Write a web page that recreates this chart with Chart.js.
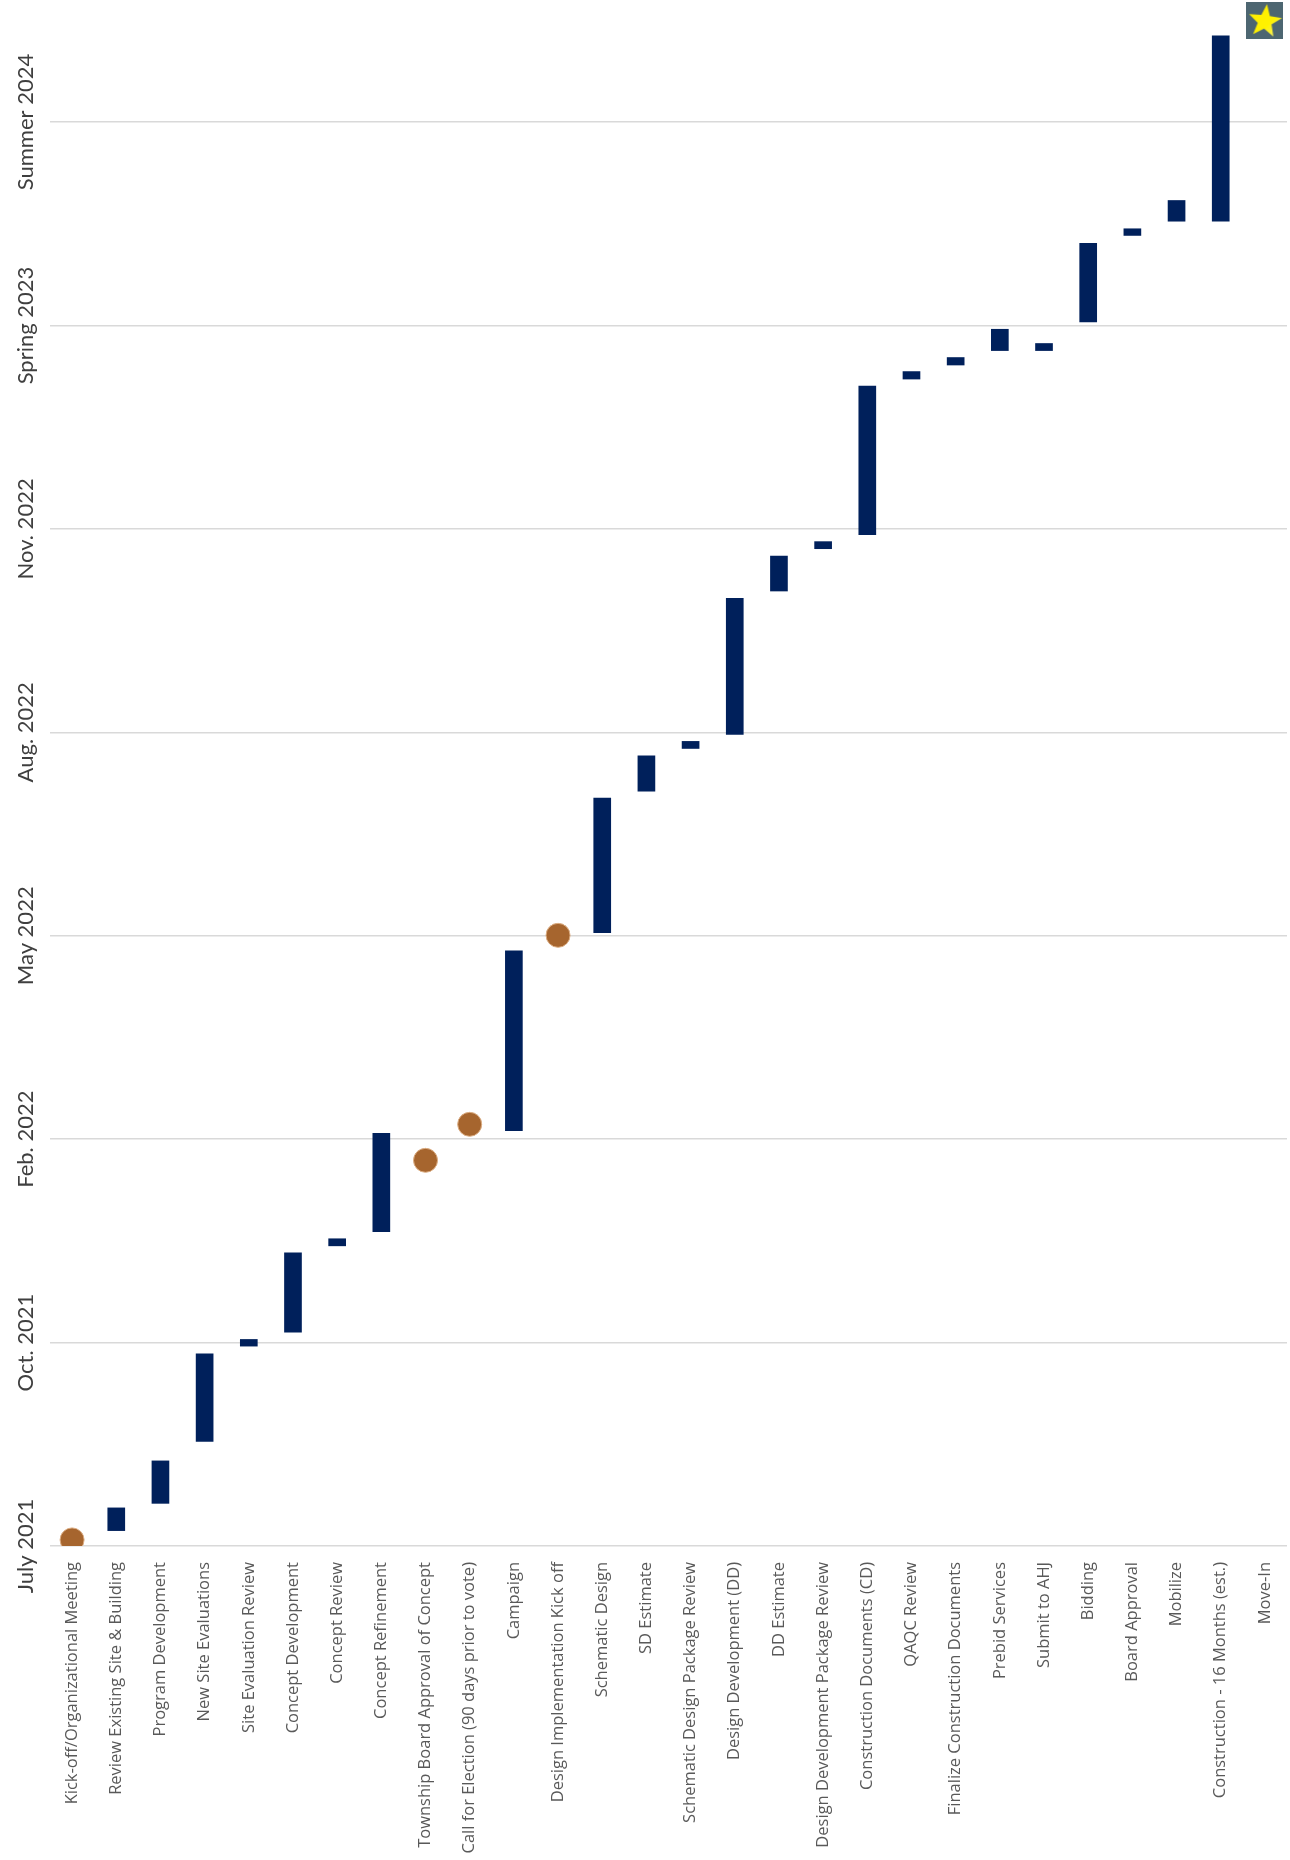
<!DOCTYPE html>
<html>
<head>
<meta charset="utf-8">
<title>Project schedule</title>
<script src="https://cdn.jsdelivr.net/npm/chart.js@4.4.1/dist/chart.umd.min.js"></script>
<style>
  html, body { margin: 0; padding: 0; background: #ffffff; }
  #wrap { position: relative; width: 1290px; height: 1860px; }
</style>
</head>
<body>
<div id="wrap"><canvas id="scheduleChart"></canvas></div>
<script>
// Tâches du planning (axe des catégories)
const tasks = [
  'Kick-off/Organizational Meeting',
  'Review Existing Site & Building',
  'Program Development',
  'New Site Evaluations',
  'Site Evaluation Review',
  'Concept Development',
  'Concept Review',
  'Concept Refinement',
  'Township Board Approval of Concept',
  'Call for Election (90 days prior to vote)',
  'Campaign',
  'Design Implementation Kick off',
  'Schematic Design',
  'SD Estimate',
  'Schematic Design Package Review',
  'Design Development (DD)',
  'DD Estimate',
  'Design Development Package Review',
  'Construction Documents (CD)',
  'QAQC Review',
  'Finalize Construction Documents',
  'Prebid Services',
  'Submit to AHJ',
  'Bidding',
  'Board Approval',
  'Mobilize',
  'Construction - 16 Months (est.)',
  'Move-In'
];

// Repères de l'axe du temps (un par ligne de grille)
const timeTicks = ['July 2021', 'Oct. 2021', 'Feb. 2022', 'May 2022', 'Aug. 2022', 'Nov. 2022', 'Spring 2023', 'Summer 2024'];

// Début et fin de chaque tâche, en unités de l'axe
const taskStart = [null, 0.074, 0.208, 0.513, 0.981, 1.050, 1.474, 1.543, null, 2.045, 2.040, 2.960, 3.014, 3.709,
  3.919, 3.988, 4.693, 4.901, 4.970, 5.735, 5.804, 5.875, 5.875, 6.016, 6.441, 6.511, 6.511, null];
const taskEnd = [null, 0.189, 0.420, 0.946, 1.017, 1.443, 1.512, 2.030, null, 2.060, 2.927, 2.975, 3.678, 3.886,
  3.957, 4.660, 4.868, 4.939, 5.704, 5.775, 5.844, 5.983, 5.913, 6.406, 6.477, 6.616, 7.426, null];

// Jalons (ronds) et emménagement (étoile)
const milestones = [0.03, null, null, null, null, null, null, null, 1.896, 2.073, null, 3.002, null, null,
  null, null, null, null, null, null, null, null, null, null, null, null, null, null];
const moveIn = [null, null, null, null, null, null, null, null, null, null, null, null, null, null,
  null, null, null, null, null, null, null, null, null, null, null, null, null, 7.5];

const bars = tasks.map((t, i) => taskStart[i] == null ? null : [taskStart[i], taskEnd[i]]);

// Petite image : carré gris-bleu avec une étoile jaune
function makeStar(size) {
  const c = document.createElement('canvas');
  c.width = size;
  c.height = size;
  const g = c.getContext('2d');
  g.fillStyle = '#4d6671';
  g.fillRect(0, 0, size, size);
  const cx = size / 2, cy = size / 2 + 1;
  const outer = size * 0.47, inner = outer * 0.42;
  g.beginPath();
  for (let k = 0; k < 10; k++) {
    const r = k % 2 === 0 ? outer : inner;
    const a = -Math.PI / 2 + k * Math.PI / 5 + 0.12;
    const px = cx + r * Math.cos(a), py = cy + r * Math.sin(a);
    if (k === 0) g.moveTo(px, py); else g.lineTo(px, py);
  }
  g.closePath();
  const grad = g.createLinearGradient(0, 0, size, size);
  grad.addColorStop(0, '#ffec00');
  grad.addColorStop(0.6, '#fff200');
  grad.addColorStop(1, '#f3f0a0');
  g.fillStyle = grad;
  g.fill();
  return c;
}

// Libellés verticaux de l'axe du temps
const timeLabels = {
  id: 'timeLabels',
  afterDraw(chart) {
    const y = chart.scales.y;
    const ctx = chart.ctx;
    ctx.save();
    ctx.font = '22px Lato, "Open Sans", sans-serif';
    ctx.fillStyle = '#3f3f3f';
    ctx.textAlign = 'center';
    ctx.textBaseline = 'middle';
    timeTicks.forEach((lbl, i) => {
      ctx.save();
      ctx.translate(26, y.getPixelForValue(i));
      ctx.rotate(-Math.PI / 2);
      ctx.fillText(lbl, 0, 0);
      ctx.restore();
    });
    ctx.restore();
  }
};

const ctx = document.getElementById('scheduleChart').getContext('2d');
const chart = new Chart(ctx, {
  type: 'bar',
  data: {
    labels: tasks,
    datasets: [
      {
        label: 'Tasks',
        data: bars,
        backgroundColor: '#00205b',
        borderWidth: 0,
        barPercentage: 0.4,
        categoryPercentage: 1.0,
        order: 2
      },
      {
        type: 'line',
        label: 'Milestones',
        data: milestones,
        showLine: false,
        pointRadius: 12,
        pointHoverRadius: 12,
        pointBackgroundColor: '#a6652e',
        pointBorderColor: '#dcae84',
        pointBorderWidth: 1,
        order: 1
      },
      {
        type: 'line',
        label: 'Move-In',
        data: moveIn,
        showLine: false,
        pointStyle: makeStar(37),
        pointRadius: 18,
        order: 0
      }
    ]
  },
  options: {
    responsive: true,
    maintainAspectRatio: false,
    animation: false,
    layout: { autoPadding: false, padding: { left: 0, right: 3, top: 0, bottom: 0 } },
    plugins: {
      legend: { display: false },
      tooltip: { enabled: false }
    },
    scales: {
      x: {
        grid: { display: false, drawTicks: false },
        border: { display: false },
        ticks: {
          autoSkip: false,
          minRotation: 90,
          maxRotation: 90,
          padding: 16,
          color: '#595959',
          font: { family: '"Open Sans", sans-serif', size: 16.5 }
        },
        afterFit: s => {
          s.height = 314;
          s.paddingLeft = 0;
          s.paddingRight = 0;
        }
      },
      y: {
        min: 0,
        max: 7.6,
        ticks: { display: false, stepSize: 1 },
        afterBuildTicks: s => { s.ticks = s.ticks.filter(t => Number.isInteger(t.value)); },
        afterFit: s => { s.width = 50; },
        grid: { color: '#d9d9d9', lineWidth: 1.5, drawTicks: false },
        border: { display: false }
      }
    }
  },
  plugins: [timeLabels]
});
</script>
</body>
</html>
